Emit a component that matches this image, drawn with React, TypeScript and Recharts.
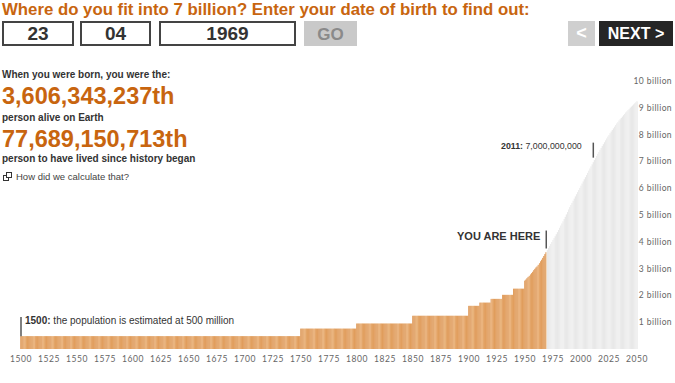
import { BarChart, Bar, XAxis, YAxis, ReferenceLine } from "recharts"

// population in billions
// before 1950 the bars are flat steps
const stepStartYears = [1500, 1750, 1800, 1850, 1900, 1910, 1920, 1930, 1940]
const stepValues = [0.48, 0.76, 0.95, 1.24, 1.61, 1.73, 1.87, 2.02, 2.25]

// from 1950 on, one value per year
const yearlyStart = 1950
const yearlyValues = [
  2.55, 2.59, 2.64, 2.69, 2.73, 2.78, 2.83, 2.88, 2.94, 2.99,
  3.04, 3.08, 3.14, 3.20, 3.27, 3.33, 3.40, 3.47, 3.54, 3.61,
  3.69, 3.77, 3.84, 3.92, 3.99, 4.07, 4.14, 4.21, 4.28, 4.36,
  4.44, 4.52, 4.60, 4.68, 4.76, 4.85, 4.93, 5.02, 5.11, 5.20,
  5.29, 5.37, 5.45, 5.53, 5.61, 5.69, 5.77, 5.85, 5.93, 6.01,
  6.09, 6.17, 6.25, 6.33, 6.41, 6.49, 6.57, 6.65, 6.73, 6.81,
  6.89, 6.97, 7.05, 7.12, 7.20, 7.28, 7.35, 7.43, 7.50, 7.57,
  7.64, 7.71, 7.78, 7.85, 7.92, 7.98, 8.05, 8.11, 8.17, 8.23,
  8.29, 8.35, 8.41, 8.46, 8.52, 8.57, 8.62, 8.67, 8.72, 8.77,
  8.82, 8.86, 8.91, 8.95, 9.00, 9.04, 9.08, 9.12, 9.16, 9.20,
  9.24,
]
const bornYear = 1969
const yTicks = [1, 2, 3, 4, 5, 6, 7, 8, 9, 10]

const data: { year: number; pop: number }[] = []
for (let y = 1500; y < yearlyStart; y++) {
  let idx = 0
  stepStartYears.forEach((s, i) => { if (y >= s) idx = i })
  data.push({ year: y, pop: stepValues[idx] })
}
yearlyValues.forEach((v, i) => data.push({ year: yearlyStart + i, pop: v }))

const orange = "#c8650f"
const sans = "'Liberation Sans', Arial, sans-serif"
const axisFont = "Lato, 'DejaVu Sans', sans-serif"

const YTick = ({ y, payload }: any) => (
  <text x={672} y={y} dy={3} textAnchor="end" fontSize={8.5} fill="#666" fontFamily={axisFont} letterSpacing={0.4}>
    {payload.value} billion
  </text>
)

const XTick = ({ x, y, payload }: any) => (
  <text x={x} y={y} dy={5} textAnchor="middle" fontSize={8.5} fill="#666" fontFamily={axisFont} letterSpacing={0.6}>
    {payload.value}
  </text>
)

// one year = one thin bar; slivers at the edges give the striped look
const YearBar = ({ x, y, width, height, payload }: any) => {
  const past = payload.year <= bornYear
  return (
    <g>
      <rect x={x} y={y} width={width} height={height} fill={past ? "#eba65c" : "#dcdcdc"} />
      <rect x={x} y={y} width={width * (past ? 0.28 : 0.4)} height={height} fill={past ? "#bd5e14" : "#ffffff"} />
      {past && <rect x={x + width * 0.8} y={y} width={width * 0.2} height={height} fill="#ffffff" />}
    </g>
  )
}

const box = (left: number, width: number, text: string) => (
  <div style={{
    position: "absolute", left, top: 21, width: width - 4, height: 21, border: "2px solid #444",
    textAlign: "center", lineHeight: "21px", fontWeight: "bold", fontSize: 19, color: "#333",
  }}>{text}</div>
)

export default function App() {
  return (
    <div style={{ position: "absolute", left: 0, top: 0, width: 675, height: 383, background: "#fff", fontFamily: sans, overflow: "hidden" }}>
      <div style={{ position: "absolute", left: 2, top: 0, fontSize: 16.8, fontWeight: "bold", color: orange, whiteSpace: "nowrap" }}>
        Where do you fit into 7 billion? Enter your date of birth to find out:
      </div>
      {box(2, 72, "23")}
      {box(80, 71, "04")}
      {box(159, 137, "1969")}
      <div style={{ position: "absolute", left: 304, top: 21, width: 53, height: 25, background: "#c9c9c9", color: "#8a8a8a", fontWeight: "bold", fontSize: 17, textAlign: "center", lineHeight: "27px" }}>GO</div>
      <div style={{ position: "absolute", left: 568, top: 21, width: 27, height: 25, background: "#cfcfcf", color: "#fff", fontWeight: "bold", fontSize: 18, textAlign: "center", lineHeight: "25px" }}>&lt;</div>
      <div style={{ position: "absolute", left: 599, top: 21, width: 74, height: 25, background: "#262626", color: "#fff", fontWeight: "bold", fontSize: 16, textAlign: "center", lineHeight: "26px" }}>NEXT &gt;</div>

      <div style={{ position: "absolute", left: 2, top: 69, fontSize: 10, fontWeight: "bold", color: "#333", whiteSpace: "nowrap" }}>When you were born, you were the:</div>
      <div style={{ position: "absolute", left: 2, top: 83, fontSize: 23.5, fontWeight: "bold", color: orange }}>3,606,343,237th</div>
      <div style={{ position: "absolute", left: 2, top: 112, fontSize: 10, fontWeight: "bold", color: "#333", whiteSpace: "nowrap" }}>person alive on Earth</div>
      <div style={{ position: "absolute", left: 2, top: 126, fontSize: 23.5, fontWeight: "bold", color: orange }}>77,689,150,713th</div>
      <div style={{ position: "absolute", left: 2, top: 153, fontSize: 10, fontWeight: "bold", color: "#333", whiteSpace: "nowrap" }}>person to have lived since history began</div>
      <div style={{ position: "absolute", left: 3, top: 172, width: 9, height: 9 }}>
        <div style={{ position: "absolute", left: 0, top: 3, width: 4, height: 4, border: "1px solid #333" }} />
        <div style={{ position: "absolute", left: 3, top: 0, width: 4, height: 4, border: "1px solid #333", background: "#fff" }} />
      </div>
      <div style={{ position: "absolute", left: 16, top: 171, fontSize: 9.5, color: "#444", whiteSpace: "nowrap" }}>How did we calculate that?</div>

      <div style={{ position: "absolute", left: 0, top: 0 }}>
        <BarChart width={675} height={383} data={data} margin={{ top: 81, right: 0, bottom: 14, left: 20.44 }} barCategoryGap={0}>
          <XAxis dataKey="year" interval={24} tickLine={false} axisLine={false} height={20} tick={<XTick />} />
          <YAxis orientation="right" domain={[0, 10]} ticks={yTicks} width={37.46} tickLine={false} axisLine={false} tick={<YTick />} />
          <Bar dataKey="pop" isAnimationActive={false} shape={<YearBar />} />
          <ReferenceLine segment={[{ x: 1500, y: 0.48 }, { x: 1500, y: 1.19 }]} stroke="#555" strokeWidth={1.5} />
          <ReferenceLine segment={[{ x: bornYear, y: 3.75 }, { x: bornYear, y: 4.42 }]} stroke="#555" strokeWidth={1.5} />
          <ReferenceLine segment={[{ x: 2011, y: 7.14 }, { x: 2011, y: 7.7 }]} stroke="#555" strokeWidth={1.5} />
        </BarChart>
      </div>

      <div style={{ position: "absolute", left: 25, top: 315, fontSize: 10, color: "#333", whiteSpace: "nowrap" }}>
        <b>1500:</b> the population is estimated at 500 million
      </div>
      <div style={{ position: "absolute", left: 457, top: 230, fontSize: 11, fontWeight: "bold", color: "#333", whiteSpace: "nowrap" }}>YOU ARE HERE</div>
      <div style={{ position: "absolute", left: 501, top: 141, fontSize: 8.8, color: "#333", whiteSpace: "nowrap" }}>
        <b>2011:</b> 7,000,000,000
      </div>
    </div>
  )
}
